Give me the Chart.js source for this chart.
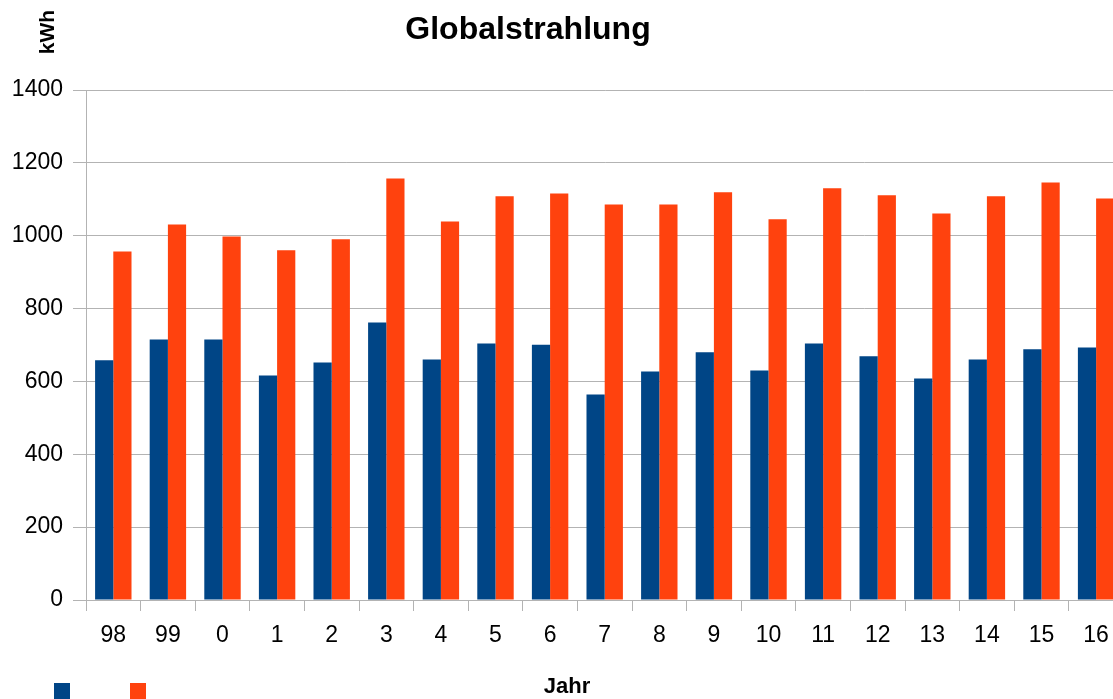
<!DOCTYPE html>
<html>
<head>
<meta charset="utf-8">
<script src="https://cdn.jsdelivr.net/npm/chart.js@4"></script>
<style>
  html, body { margin: 0; padding: 0; overflow: hidden; background: #fff; }
  #wrap { width: 1130px; height: 699px; position: relative; }
</style>
</head>
<body>
<div id="wrap"><canvas id="chart"></canvas></div>
<script>
const years = ['98', '99', '0', '1', '2', '3', '4', '5', '6', '7', '8', '9', '10', '11', '12', '13', '14', '15', '16'];
const blueValues = [658, 715, 715, 616, 652, 762, 660, 704, 701, 564, 627, 680, 630, 704, 669, 608, 660, 688, 693];
const orangeValues = [957, 1031, 998, 960, 990, 1157, 1039, 1108, 1116, 1086, 1086, 1119, 1045, 1130, 1111, 1061, 1108, 1146, 1102];
const yTicks = [0, 200, 400, 600, 800, 1000, 1200, 1400];

const blue = '#004586';
const orange = '#ff420e';
const gridColor = '#b3b3b3';
const fontFamily = '"Liberation Sans", Arial, sans-serif';

// titles and legend boxes are placed by hand, like in the original
const extras = {
  id: 'extras',
  afterDraw(chart) {
    const ctx = chart.ctx;
    ctx.save();
    ctx.fillStyle = '#000';
    ctx.textAlign = 'center';
    ctx.textBaseline = 'alphabetic';

    ctx.font = 'bold 32px ' + fontFamily;
    ctx.fillText('Globalstrahlung', 528, 39);

    ctx.font = 'bold 22px ' + fontFamily;
    ctx.fillText('Jahr', 567, 693);

    ctx.translate(54, 32);
    ctx.rotate(-Math.PI / 2);
    ctx.font = 'bold 21px ' + fontFamily;
    ctx.fillText('kWh', 0, 0);
    ctx.restore();

    ctx.save();
    ctx.fillStyle = blue;
    ctx.fillRect(54, 683, 16, 16);
    ctx.fillStyle = orange;
    ctx.fillRect(130, 683, 16, 16);
    ctx.restore();
  }
};

new Chart(document.getElementById('chart'), {
  type: 'bar',
  data: {
    labels: years,
    datasets: [
      { label: '', data: blueValues, backgroundColor: blue, borderWidth: 0, categoryPercentage: 0.667, barPercentage: 1.0 },
      { label: '', data: orangeValues, backgroundColor: orange, borderWidth: 0, categoryPercentage: 0.667, barPercentage: 1.0 }
    ]
  },
  options: {
    responsive: true,
    maintainAspectRatio: false,
    devicePixelRatio: 1,
    animation: false,
    layout: { padding: { top: 90, right: 6.6, left: 0, bottom: 0 } },
    plugins: {
      legend: { display: false },
      title: { display: false },
      tooltip: { enabled: false }
    },
    scales: {
      x: {
        grid: { drawOnChartArea: false, drawTicks: true, tickLength: 11, color: gridColor, offset: true },
        border: { color: gridColor },
        ticks: { color: '#000', font: { family: fontFamily, size: 23 }, padding: 11, maxRotation: 0, autoSkip: false },
        afterFit(scale) { scale.height = 99; }
      },
      y: {
        min: 0,
        max: 1400,
        afterBuildTicks(scale) { scale.ticks = yTicks.map(v => ({ value: v })); },
        grid: { color: gridColor, tickLength: 13 },
        border: { color: gridColor },
        ticks: { color: '#000', font: { family: fontFamily, size: 23 }, padding: 10, callback: v => String(v) },
        afterFit(scale) { scale.width = 86; }
      }
    }
  },
  plugins: [extras]
});
</script>
</body>
</html>
